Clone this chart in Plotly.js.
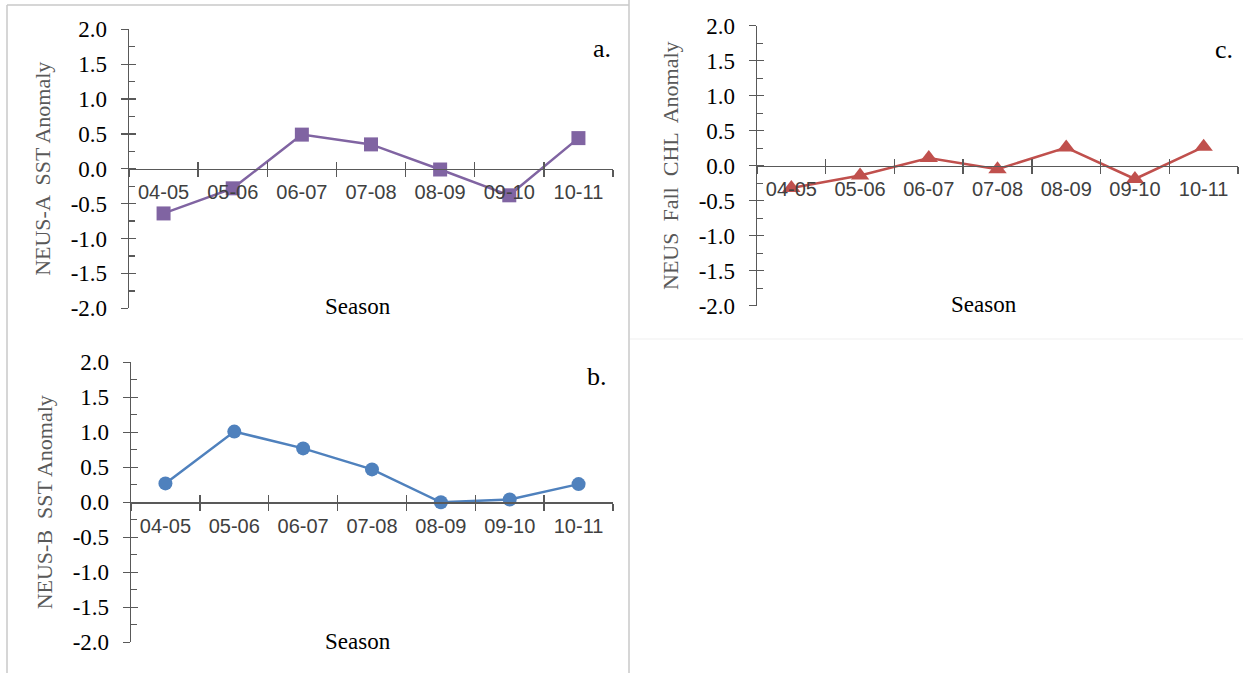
<!DOCTYPE html>
<html>
<head>
<meta charset="utf-8">
<script src="https://cdn.plot.ly/plotly-3.0.1.min.js"></script>
<style>html,body{margin:0;padding:0;background:#fff;}#chart{width:1243px;height:673px;}</style>
</head>
<body>
<div id="chart"></div>
<script>
// ---- data ----
const seasons = ["04-05", "05-06", "06-07", "07-08", "08-09", "09-10", "10-11"];
const neusA_sst = [-0.64, -0.28, 0.49, 0.35, -0.01, -0.38, 0.44];
const neusB_sst = [0.27, 1.01, 0.77, 0.47, 0.00, 0.04, 0.26];
const neusFall_chl = [-0.32, -0.14, 0.11, -0.05, 0.26, -0.19, 0.27];
const yTickVals = [-2.0, -1.5, -1.0, -0.5, 0.0, 0.5, 1.0, 1.5, 2.0];
const yTickText = ["-2.0", "-1.5", "-1.0", "-0.5", "0.0", "0.5", "1.0", "1.5", "2.0"];
const yTitles = ["NEUS-A  SST Anomaly", "NEUS-B  SST Anomaly", "NEUS  Fall  CHL  Anomaly"];
const xTitle = "Season";
const panelLetters = ["a.", "b.", "c."];

// ---- layout helpers ----
const W = 1243, H = 673;
const px = v => v / W;
const py = v => 1 - v / H;
const axisCol = "#595959";
const boundaries = seasons.map((_, i) => i - 0.5).concat([seasons.length - 0.5]);

// panel geometry in pixels: left, right of x axis; top(2.0), bottom(-2.0)
const panels = [
  {l: 129, r: 613, t: 29.3, b: 308.3, color: "#8064A2", symbol: "square", size: 14, data: neusA_sst,
   season: [358, 307], letter: [602, 49]},
  {l: 131, r: 613, t: 362.3, b: 642.3, color: "#4F81BD", symbol: "circle", size: 14, data: neusB_sst,
   season: [358, 641], letter: [597, 376]},
  {l: 757, r: 1238, t: 25.7, b: 305.7, color: "#C0504D", symbol: "triangle-up", size: 16, data: neusFall_chl,
   season: [984, 305], letter: [1224, 50]}
];

const traces = [];
const layout = {
  width: W, height: H, autosize: false,
  margin: {l: 0, r: 0, t: 0, b: 0, pad: 0},
  paper_bgcolor: "#ffffff", plot_bgcolor: "rgba(0,0,0,0)",
  showlegend: false,
  annotations: [],
  shapes: [
    // left frame
    {type: "line", xref: "paper", yref: "paper", x0: px(7), x1: px(7), y0: py(5), y1: py(675), line: {color: "#c8c8c8", width: 1.5}},
    {type: "line", xref: "paper", yref: "paper", x0: px(7), x1: px(629), y0: py(5), y1: py(5), line: {color: "#c8c8c8", width: 1.5}},
    {type: "line", xref: "paper", yref: "paper", x0: px(629), x1: px(629), y0: py(0), y1: py(675), line: {color: "#c8c8c8", width: 1.5}},
    // faint bottom of right frame
    {type: "line", xref: "paper", yref: "paper", x0: px(630), x1: px(1243), y0: py(339), y1: py(339), line: {color: "#efefef", width: 1}}
  ]
};

panels.forEach((p, k) => {
  const n = k + 1, m = k + 4;
  const xs = n === 1 ? "" : String(n);
  const os = String(m);
  const zeroPx = (p.t + p.b) / 2;
  const xDom = [px(p.l), px(p.r)];
  const yDom = [py(p.b), py(p.t)];

  traces.push({
    type: "scatter", mode: "lines+markers",
    x: seasons, y: p.data,
    xaxis: "x" + xs, yaxis: "y" + xs,
    line: {color: p.color, width: 2.5},
    marker: {color: p.color, symbol: p.symbol, size: p.size, line: {width: 0}},
    cliponaxis: false, hoverinfo: "x+y"
  });
  // empty trace to carry the overlay axes (inner half of the crossing ticks)
  traces.push({type: "scatter", x: [], y: [], xaxis: "x" + os, yaxis: "y" + os, hoverinfo: "skip", showlegend: false});

  layout["xaxis" + xs] = {
    type: "category", categoryarray: seasons, categoryorder: "array",
    domain: xDom, anchor: "free", position: py(zeroPx),
    range: [-0.5, seasons.length - 0.5],
    tickson: "boundaries", ticks: "outside", ticklen: 7, tickwidth: 1.3, tickcolor: axisCol,
    showline: true, linecolor: axisCol, linewidth: 1.3,
    showgrid: false, zeroline: false, fixedrange: true,
    tickfont: {family: "Liberation Sans, Arial, sans-serif", size: 20, color: "#404040"},
    ticklabelstandoff: 5
  };
  layout["yaxis" + xs] = {
    domain: yDom, anchor: "x" + xs, range: [-2, 2],
    tickmode: "array", tickvals: yTickVals, ticktext: yTickText,
    ticks: "outside", ticklen: 7, tickwidth: 1.3, tickcolor: axisCol,
    showline: true, linecolor: axisCol, linewidth: 1.3,
    showgrid: false, zeroline: false, fixedrange: true,
    tickfont: {family: "Liberation Serif, Times New Roman, serif", size: 23, color: "#000000"},
    ticklabelstandoff: 9,
    title: {text: yTitles[k], font: {family: "Liberation Serif, Times New Roman, serif", size: 22, color: "#595959"}, standoff: 14},
    automargin: false
  };
  layout["xaxis" + os] = {
    overlaying: "x" + xs, domain: xDom, anchor: "free", position: py(zeroPx),
    range: [-0.5, seasons.length - 0.5],
    tickmode: "array", tickvals: boundaries,
    ticks: "inside", ticklen: 7, tickwidth: 1.3, tickcolor: axisCol,
    showticklabels: false, showline: false, showgrid: false, zeroline: false, fixedrange: true
  };
  layout["yaxis" + os] = {
    overlaying: "y" + xs, domain: yDom, anchor: "x" + os, range: [-2, 2],
    tickmode: "array", tickvals: yTickVals,
    ticks: "inside", ticklen: 7, tickwidth: 1.3, tickcolor: axisCol,
    minor: {ticks: "inside", ticklen: 6, tickwidth: 1.3, tickcolor: axisCol, tickmode: "linear", tick0: 0, dtick: 0.25, showgrid: false},
    showticklabels: false, showline: false, showgrid: false, zeroline: false, fixedrange: true
  };

  layout.annotations.push({
    text: xTitle, xref: "paper", yref: "paper", x: px(p.season[0]), y: py(p.season[1]),
    xanchor: "center", yanchor: "middle", showarrow: false,
    font: {family: "Liberation Serif, Times New Roman, serif", size: 23, color: "#000000"}
  });
  layout.annotations.push({
    text: panelLetters[k], xref: "paper", yref: "paper", x: px(p.letter[0]), y: py(p.letter[1]),
    xanchor: "center", yanchor: "middle", showarrow: false,
    font: {family: "Liberation Serif, Times New Roman, serif", size: 26, color: "#000000"}
  });
});

Plotly.newPlot("chart", traces, layout, {displayModeBar: false, staticPlot: true});
</script>
</body>
</html>
